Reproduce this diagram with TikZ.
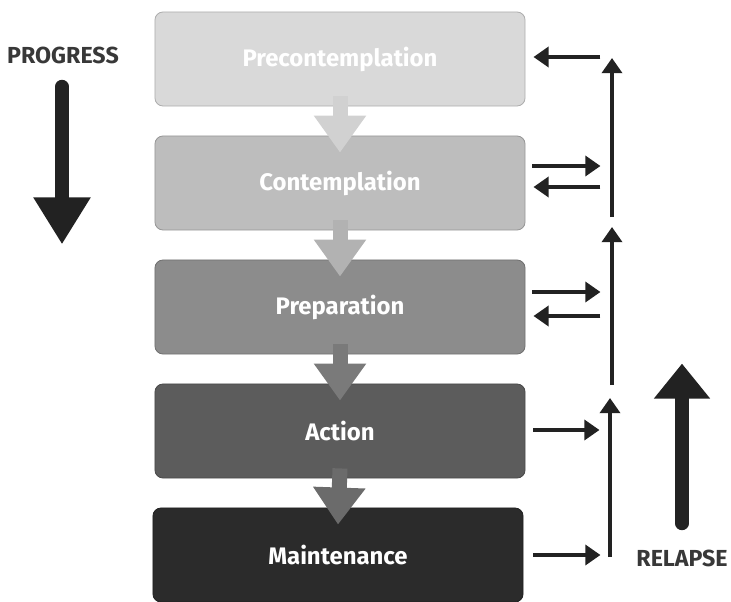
\documentclass[tikz,border=0pt]{standalone}
\usepackage{fontspec}
\setmainfont{Fira Sans}
\usetikzlibrary{arrows.meta,calc}

\definecolor{stA}{HTML}{D9D9D9}
\definecolor{stB}{HTML}{BDBDBD}
\definecolor{stC}{HTML}{8C8C8C}
\definecolor{stD}{HTML}{5C5C5C}
\definecolor{stE}{HTML}{2B2B2B}
\definecolor{inkdark}{HTML}{222222}

\tikzset{
  stage/.style={fill=#1, draw=#1!80!black, line width=0.6pt, rounded corners=0.2cm,
    minimum width=9.25cm, minimum height=2.35cm, text=white,
    font=\bfseries\fontsize{17}{20}\selectfont},
  flow/.style={draw=#1, line width=0.375cm, -{Triangle[width=1.25cm,length=0.925cm]}},
  relarrow/.style={draw=inkdark, line width=0.12cm, -{Triangle[width=0.5cm,length=0.38cm]}},
  bigarrow/.style={draw=inkdark, line width=0.33cm, line cap=round,
    -{Triangle[width=1.35cm,length=#1]}},
  sidelabel/.style={text=inkdark!90, font=\bfseries\fontsize{16.5}{19}\selectfont}
}

\begin{document}
\begin{tikzpicture}[x=0.025cm, y=0.025cm]
  \useasboundingbox (0,0) rectangle (731,601);
  % Stages
  \node[stage=stA] (pre)  at (340,542) {Precontemplation};
  \node[stage=stB] (con)  at (340,418) {Contemplation};
  \node[stage=stC] (prep) at (340,294) {Preparation};
  \node[stage=stD] (act)  at (340,170) {Action};
  \node[stage=stE] (main) at (338,46)  {Maintenance};
  % Arrows from stage to stage
  \draw[flow=black!18] ($(pre.south)+(0,10)$)  -- ($(con.north)+(0,-17)$);
  \draw[flow=black!30] ($(con.south)+(0,10)$)  -- ($(prep.north)+(0,-17)$);
  \draw[flow=black!52] ($(prep.south)+(0,10)$) -- ($(act.north)+(0,-17)$);
  \draw[flow=black!58] ($(act.south)+(0,10)$)  -- ($(main.north)+(0,-17)$);
  % Relapse line on the right
  \coordinate (ra) at (612,384);
  \coordinate (rb) at (612,543);
  \coordinate (rc) at (612,216);
  \coordinate (rd) at (612,374);
  \coordinate (re) at (610,44);
  \coordinate (rf) at (610,203);
  \draw[relarrow] (ra) -- (rb);
  \draw[relarrow] (rc) -- (rd);
  \draw[relarrow] (re) -- (rf);
  % Arrows to and from the stages
  \draw[relarrow] ($(pre.east)+(75,2)$)   -- ($(pre.east)+(8,2)$);
  \draw[relarrow] ($(con.east)+(7,17)$)   -- ($(con.east)+(75,17)$);
  \draw[relarrow] ($(con.east)+(75,-4)$)  -- ($(con.east)+(8,-4)$);
  \draw[relarrow] ($(prep.east)+(7,15)$)  -- ($(prep.east)+(75,15)$);
  \draw[relarrow] ($(prep.east)+(75,-9)$) -- ($(prep.east)+(8,-9)$);
  \draw[relarrow] ($(act.east)+(8,1)$)    -- ($(act.east)+(74,1)$);
  \draw[relarrow] ($(main.east)+(10,0)$)  -- ($(main.east)+(77,0)$);
  % Side labels
  \node[sidelabel] (prog) at (63,546) {PROGRESS};
  \node[sidelabel] (rel)  at (682,43) {RELAPSE};
  \draw[bigarrow=1.175cm] ($(prog.south)+(-1,-18)$) -- ($(prog.south)+(-1,-176)$);
  \draw[bigarrow=0.875cm] ($(rel.north)+(0,21)$)   -- ($(rel.north)+(0,181)$);
\end{tikzpicture}
\end{document}
